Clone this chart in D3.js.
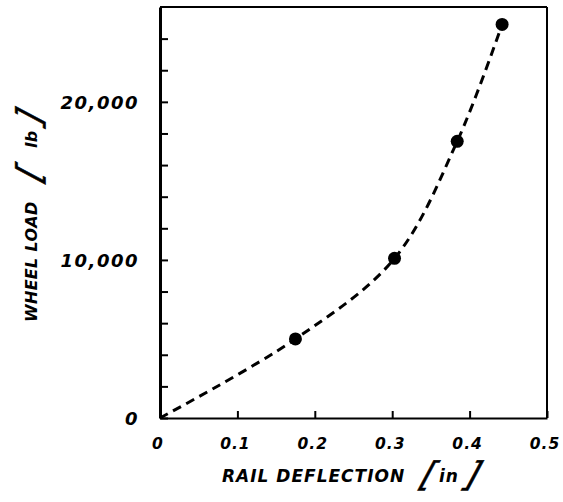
<!DOCTYPE html>
<html>
<head>
<meta charset="utf-8">
<script src="https://cdn.jsdelivr.net/npm/d3@7"></script>
<style>
  html, body { margin: 0; padding: 0; background: #fff; }
  text { font-family: "DejaVu Sans", sans-serif; font-weight: bold; font-style: italic; fill: #000; }
  text.bracket { font-style: normal; font-weight: normal; }
</style>
</head>
<body>
<svg id="chart" width="563" height="502"></svg>
<script>
// Measured wheel load vs. rail deflection
const deflection = [0.175, 0.303, 0.384, 0.442];          // in
const wheelLoad  = [5000, 10100, 17500, 24900];          // lb
// Fitted curve starts at the origin and runs through the measurements
const curveDeflection = [0].concat(deflection);
const curveLoad       = [0].concat(wheelLoad);

const xTicks = [0, 0.1, 0.2, 0.3, 0.4, 0.5];
const xTickLabels = ["0", "0.1", "0.2", "0.3", "0.4", "0.5"];
const yMinorTicks = d3.range(0, 26000, 2000);
const yTickValues = [0, 10000, 20000];
const yTickLabels = ["0", "10,000", "20,000"];

const svg = d3.select("#chart");
const plotLeft = 160, plotRight = 547, plotTop = 7, plotBottom = 418;

const x = d3.scaleLinear().domain([0, 0.5]).range([plotLeft, plotRight]);
const y = d3.scaleLinear().domain([0, 26000]).range([plotBottom, plotTop]);

// frame
svg.append("line").attr("x1", plotLeft).attr("x2", plotRight).attr("y1", plotTop).attr("y2", plotTop)
  .attr("stroke", "#000").attr("stroke-width", 2);
svg.append("line").attr("x1", plotRight).attr("x2", plotRight).attr("y1", plotTop).attr("y2", plotBottom)
  .attr("stroke", "#000").attr("stroke-width", 2);

// bottom axis, ticks pointing inward
const xAxis = svg.append("g").attr("transform", `translate(0,${plotBottom})`)
  .call(d3.axisBottom(x).tickValues(xTicks).tickSizeInner(-7).tickSizeOuter(0).tickFormat(""));
xAxis.select(".domain").attr("stroke-width", 2.2);
xAxis.selectAll(".tick line").attr("stroke-width", 2);

// left axis, minor ticks every 2,000 lb pointing inward
const yAxis = svg.append("g").attr("transform", `translate(${plotLeft},0)`)
  .call(d3.axisLeft(y).tickValues(yMinorTicks).tickSizeInner(-8).tickSizeOuter(0).tickFormat(""));
yAxis.select(".domain").attr("stroke-width", 3);
yAxis.selectAll(".tick line").attr("stroke-width", 2);

// tick labels
svg.selectAll(".xlab").data(xTicks).enter().append("text")
  .attr("class", "xlab")
  .attr("x", d => x(d) - 2)
  .attr("y", 449)
  .attr("text-anchor", "middle")
  .attr("font-size", 15.5)
  .attr("letter-spacing", 1)
  .text((d, i) => xTickLabels[i]);

svg.selectAll(".ylab").data(yTickValues).enter().append("text")
  .attr("class", "ylab")
  .attr("x", 139)
  .attr("y", d => y(d) + 7)
  .attr("text-anchor", "end")
  .attr("font-size", 18)
  .attr("letter-spacing", 1.5)
  .text((d, i) => yTickLabels[i]);

// axis title: words, then the unit between tall slanted brackets.
// pieces: [text, offset along the title, kind]
function axisTitle(g, pieces, fontSize, spacing) {
  pieces.forEach(([str, pos, kind]) => {
    if (kind === "bracket") {
      g.append("text").attr("class", "bracket")
        .attr("transform", `translate(${pos},4) skewX(-28)`)
        .attr("font-size", 34)
        .attr("stroke", "#000").attr("stroke-width", 0.6)
        .text(str);
    } else {
      g.append("text")
        .attr("x", pos).attr("y", 0)
        .attr("font-size", fontSize)
        .attr("letter-spacing", spacing)
        .text(str);
    }
  });
}

axisTitle(svg.append("g").attr("transform", "translate(222,482)"),
  [["RAIL DEFLECTION", 0, "text"], ["[", 195, "bracket"], ["in", 217, "text"], ["]", 238, "bracket"]],
  17, 1.0);

axisTitle(svg.append("g").attr("transform", "translate(37,322) rotate(-90)"),
  [["WHEEL LOAD", 0, "text"], ["[", 137, "bracket"], ["lb", 174, "text"], ["]", 192, "bracket"]],
  16, 0.3);

// dashed fitted curve
const line = d3.line()
  .x(d => x(d[0]))
  .y(d => y(d[1]))
  .curve(d3.curveCatmullRom.alpha(0.5));
svg.append("path")
  .datum(d3.zip(curveDeflection, curveLoad))
  .attr("d", line)
  .attr("fill", "none")
  .attr("stroke", "#000")
  .attr("stroke-width", 3)
  .attr("stroke-dasharray", "9,6");

// measured points
svg.selectAll(".pt").data(d3.zip(deflection, wheelLoad)).enter().append("circle")
  .attr("class", "pt")
  .attr("cx", d => x(d[0]))
  .attr("cy", d => y(d[1]))
  .attr("r", 6.5)
  .attr("fill", "#000");
</script>
</body>
</html>
